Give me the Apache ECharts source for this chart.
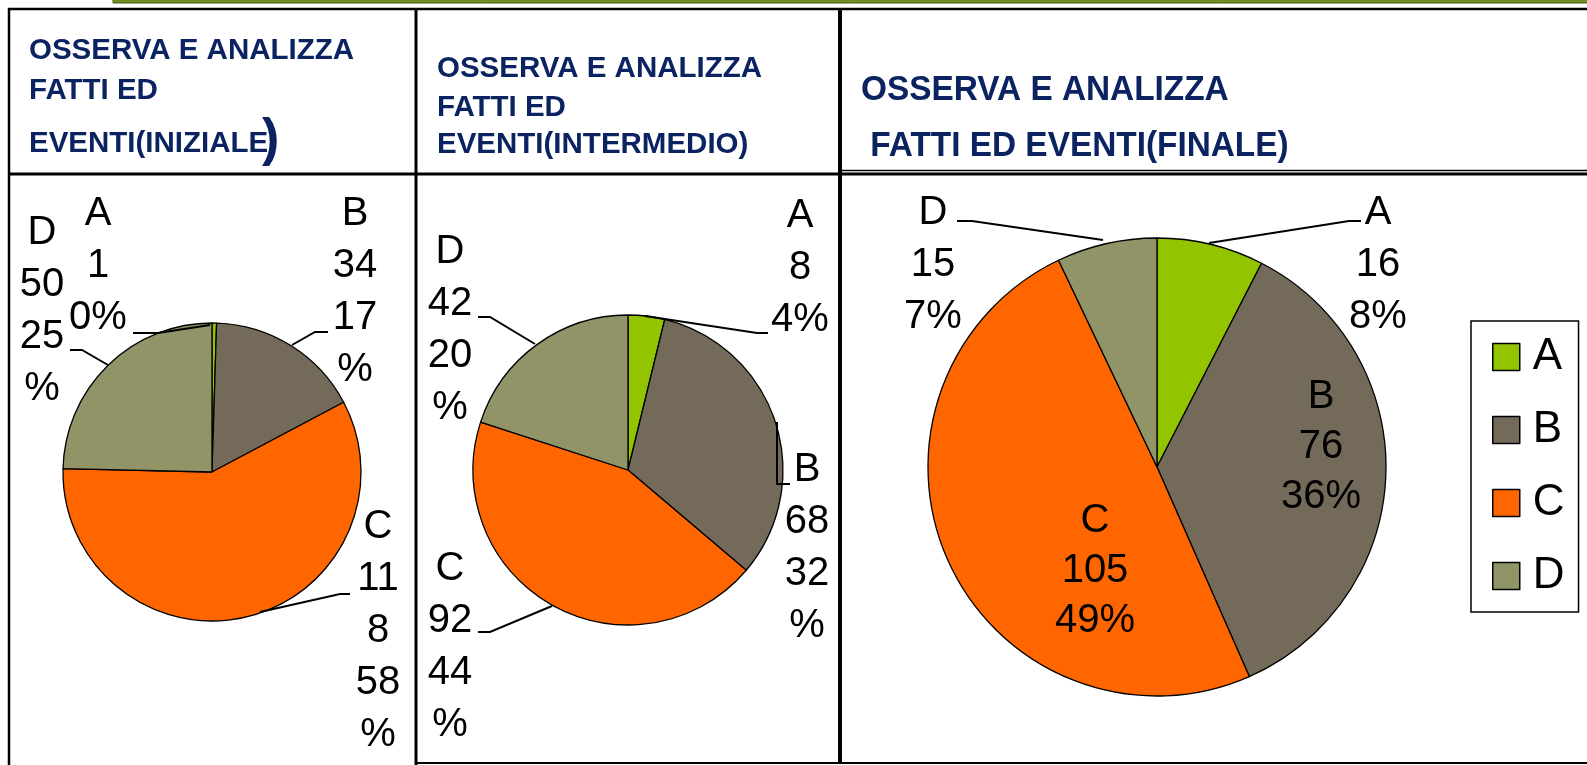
<!DOCTYPE html>
<html>
<head>
<meta charset="utf-8">
<script src="https://cdn.jsdelivr.net/npm/echarts@6/dist/echarts.min.js"></script>
<style>
html,body{margin:0;padding:0;background:#fff;}
#chart{width:1587px;height:765px;}
</style>
</head>
<body>
<div id="chart"></div>
<script>
// ---------- DATA ----------
const categories = ['A', 'B', 'C', 'D'];
const valuesIniziale = [1, 34, 118, 50];
const valuesIntermedio = [8, 68, 92, 42];
const valuesFinale = [16, 76, 105, 15];
const titleIniziale = ['OSSERVA E ANALIZZA', 'FATTI ED', 'EVENTI(INIZIALE', ')'];
const titleIntermedio = ['OSSERVA E ANALIZZA', 'FATTI ED', 'EVENTI(INTERMEDIO)'];
const titleFinale = ['OSSERVA E ANALIZZA', ' FATTI ED EVENTI(FINALE)'];

// ---------- STYLE / LAYOUT ----------
const colors = ['#92c400', '#736a5a', '#ff6600', '#919466'];
const FONT = '"Liberation Sans", Arial, sans-serif';
const NAVY = '#0b2461';

// label placement per pie (x = text centre, y = top of text block), label line points
const labelPlaces = [
  [ {x: 98,  y: 188, line: [[210,325],[158,333],[133,333]]},
    {x: 355, y: 188, line: [[292,345],[315,332],[328,332]]},
    {x: 378, y: 501, line: [[260,612],[340,594],[350,594]]},
    {x: 42,  y: 207, line: [[108,365],[82,350],[70,350]]} ],
  [ {x: 800, y: 190, line: [[645,316],[757,333],[768,333]]},
    {x: 807, y: 444, line: [[777,422],[777,484],[790,484]]},
    {x: 450, y: 543, line: [[552,606],[490,632],[478,632]]},
    {x: 450, y: 226, line: [[535,344],[490,317],[478,317]]} ],
  [ {x: 1378, y: 187, line: [[1209,243],[1349,221],[1361,221]]},
    {x: 1321, y: 372, line: null},
    {x: 1095, y: 496, line: null},
    {x: 933,  y: 187, line: [[1103,240],[972,221],[957,221]]} ]
];
const pieGeom = [
  {center: [212, 472], radius: 149, wrap: 2},
  {center: [628, 470], radius: 155, wrap: 2},
  {center: [1157, 467], radius: 229, wrap: 3}
];

function wrap(s, n) {
  const parts = [];
  for (let i = 0; i < s.length; i += n) parts.push(s.slice(i, i + n));
  return parts.join('\n');
}

// fill layer: coloured sectors, no labels
function makePieFill(values, idx) {
  const g = pieGeom[idx];
  return {
    type: 'pie', z: 2,
    center: g.center, radius: g.radius,
    startAngle: 90, clockwise: true,
    silent: true,
    data: categories.map((c, i) => ({name: c, value: values[i], itemStyle: {color: colors[i]}})),
    itemStyle: {borderColor: '#000', borderWidth: 1.3},
    label: {show: false},
    labelLine: {show: false}
  };
}

// label layer: same pie, transparent sectors, labels + leader lines drawn on top
function makePieLabels(values, idx) {
  const g = pieGeom[idx];
  return {
    type: 'pie', z: 5,
    center: g.center, radius: g.radius,
    startAngle: 90, clockwise: true,
    percentPrecision: 0,
    avoidLabelOverlap: false,
    silent: true,
    legendHoverLink: false,
    data: categories.map((c, i) => {
      const item = {name: c, value: values[i]};
      if (!labelPlaces[idx][i].line) {
        item.labelLine = {show: false};
        item.label = {lineHeight: 50};
      }
      return item;
    }),
    itemStyle: {color: 'rgba(0,0,0,0)', borderWidth: 0},
    label: {
      show: true,
      position: 'outside',
      fontFamily: FONT,
      fontSize: 40,
      lineHeight: 52,
      color: '#000',
      align: 'center',
      formatter: p => [p.name, wrap(String(p.value), g.wrap), wrap(p.percent + '%', g.wrap)].join('\n')
    },
    labelLine: {show: true, lineStyle: {color: '#000', width: 2}},
    labelLayout: function (p) {
      const pl = labelPlaces[idx][p.dataIndex];
      const r = {x: pl.x, y: pl.y, align: 'center', verticalAlign: 'top'};
      if (pl.line) r.labelLinePoints = pl.line;
      return r;
    }
  };
}

function textEl(str, x, y, size, opts) {
  opts = opts || {};
  return {
    type: 'text',
    x: x, y: y,
    scaleX: opts.scaleX || 1,
    silent: true,
    style: {
      text: str, x: 0, y: 0,
      fontFamily: FONT, fontSize: size, fontWeight: 'bold',
      fill: NAVY,
      textAlign: 'left', textVerticalAlign: 'middle',
      align: 'left', verticalAlign: 'middle'
    }
  };
}
function lineEl(x1, y1, x2, y2, w) {
  return {type: 'line', silent: true, shape: {x1, y1, x2, y2}, style: {stroke: '#000', lineWidth: w}};
}

const graphics = [
  {type: 'rect', silent: true, shape: {x: 113, y: -3, width: 1480, height: 6}, style: {fill: '#6f8f22', stroke: '#4b5c12', lineWidth: 1}},
  lineEl(8, 9, 1587, 9, 2.5),
  lineEl(9, 8, 9, 765, 2.5),
  lineEl(8, 174, 1587, 174, 3),
  lineEl(840, 170.5, 1587, 170.5, 1.5),
  lineEl(416, 8, 416, 765, 3),
  lineEl(840, 8, 840, 764, 4),
  lineEl(415, 763, 840, 763, 2),
  lineEl(840, 763, 1587, 763, 2),
  // titles
  textEl(titleIniziale[0], 29, 51, 29.5),
  textEl(titleIniziale[1], 29, 91, 29.5),
  textEl(titleIniziale[2], 29, 143.5, 29.5),
  textEl(titleIniziale[3], 262, 141, 52),
  textEl(titleIntermedio[0], 437, 69, 29.5),
  textEl(titleIntermedio[1], 437, 107.5, 29.5),
  textEl(titleIntermedio[2], 437, 145, 29.5),
  textEl(titleFinale[0], 861, 90, 35.5, {scaleX: 0.94}),
  textEl(titleFinale[1], 861, 146, 35.5, {scaleX: 0.94})
];

const chart = echarts.init(document.getElementById('chart'), null, {renderer: 'canvas'});
chart.setOption({
  animation: false,
  backgroundColor: '#fff',
  color: colors,
  legend: {
    orient: 'vertical',
    left: 1471, top: 321,
    padding: [14, 14, 14, 21],
    itemWidth: 27, itemHeight: 27, itemGap: 29,
    icon: 'rect',
    borderColor: '#000', borderWidth: 1.5,
    selectedMode: false,
    data: categories.map((c, i) => ({name: c, itemStyle: {color: colors[i], borderColor: '#000', borderWidth: 1.5}})),
    textStyle: {fontFamily: FONT, fontSize: 44, lineHeight: 44, color: '#000', padding: [0, 0, 0, 8]}
  },
  graphic: graphics,
  series: [
    makePieFill(valuesIniziale, 0),
    makePieFill(valuesIntermedio, 1),
    makePieFill(valuesFinale, 2),
    makePieLabels(valuesIniziale, 0),
    makePieLabels(valuesIntermedio, 1),
    makePieLabels(valuesFinale, 2)
  ]
});
</script>
</body>
</html>
